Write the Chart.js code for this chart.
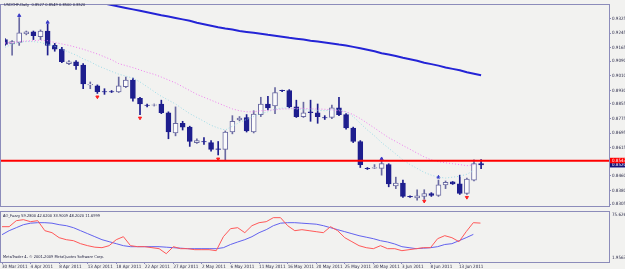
<!DOCTYPE html>
<html>
<head>
<meta charset="utf-8">
<script src="https://cdn.jsdelivr.net/npm/chart.js@4.4.0/dist/chart.umd.min.js"></script>
<style>
  html, body { margin: 0; padding: 0; background: #f2f2f0; }
  #wrap { position: relative; width: 625px; height: 269px; overflow: hidden; background: #f2f2f0; }
  #main { position: absolute; left: 0; top: 0; }
  #sub { position: absolute; left: 0; top: 205px; }
  .lbl { position: absolute; font-family: 'Liberation Sans Narrow', 'DejaVu Sans Condensed', sans-serif;
         font-size: 8px; line-height: 1; color: #202040; white-space: nowrap;
         transform: scale(0.5); transform-origin: 0 0; }
</style>
</head>
<body>
<div id="wrap">
  <canvas id="main" width="625" height="211"></canvas>
  <canvas id="sub" width="625" height="64"></canvas>
  <div class="lbl" style="left:4px;top:3px">USDCHF,Daily&nbsp; 0.8527 0.8549 0.8500 0.8520</div>
  <div class="lbl" style="left:3px;top:214px">AO_Fuzzy 59.2800 42.6200 33.9009 48.2020 11.6999</div>
  <div class="lbl" style="left:3px;top:255px">MetaTrader 4, © 2001-2009 MetaQuotes Software Corp.</div>
</div>
<script>
// daily bars (MT4 includes the short Sunday bars)
const dates = [
  '30 Mar 2011','31 Mar 2011','1 Apr 2011','3 Apr 2011','4 Apr 2011','5 Apr 2011','6 Apr 2011','7 Apr 2011',
  '8 Apr 2011','10 Apr 2011','11 Apr 2011','12 Apr 2011','13 Apr 2011','14 Apr 2011','15 Apr 2011','17 Apr 2011',
  '18 Apr 2011','19 Apr 2011','20 Apr 2011','21 Apr 2011','22 Apr 2011','24 Apr 2011','25 Apr 2011','26 Apr 2011',
  '27 Apr 2011','28 Apr 2011','29 Apr 2011','1 May 2011','2 May 2011','3 May 2011','4 May 2011','5 May 2011',
  '6 May 2011','8 May 2011','9 May 2011','10 May 2011','11 May 2011','12 May 2011','13 May 2011','15 May 2011',
  '16 May 2011','17 May 2011','18 May 2011','19 May 2011','20 May 2011','22 May 2011','23 May 2011','24 May 2011',
  '25 May 2011','26 May 2011','27 May 2011','29 May 2011','30 May 2011','31 May 2011','1 Jun 2011','2 Jun 2011',
  '3 Jun 2011','5 Jun 2011','6 Jun 2011','7 Jun 2011','8 Jun 2011','9 Jun 2011','10 Jun 2011','12 Jun 2011',
  '13 Jun 2011','14 Jun 2011','15 Jun 2011','16 Jun 2011'
];
const emptyBars = 18; // free space right of the last bar

const opens = [
  0.9209,0.9185,0.9193,0.9241,0.9251,0.9225,0.9256,0.9177,0.9156,0.9077,0.9087,0.9069,0.8960,0.8955,0.8923,0.8923,
  0.8921,0.8950,0.8987,0.8886,0.8849,0.8849,0.8855,0.8807,0.8696,0.8749,0.8728,0.8643,0.8649,0.8643,0.8609,0.8606,
  0.8701,0.8767,0.8781,0.8701,0.8797,0.8855,0.8844,0.8930,0.8929,0.8839,0.8786,0.8812,0.8807,0.8781,0.8781,0.8834,
  0.8797,0.8723,0.8649,0.8501,0.8503,0.8501,0.8522,0.8405,0.8421,0.8347,0.8339,0.8347,0.8363,0.8353,0.8411,0.8427,
  0.8416,0.8363,0.8437,0.8527
];
const highs = [
  0.9214,0.9204,0.9330,0.9256,0.9256,0.9262,0.9293,0.9188,0.9167,0.9093,0.9093,0.9077,0.8976,0.8960,0.8939,0.8929,
  0.9003,0.9003,0.8997,0.8892,0.8855,0.8855,0.8876,0.8812,0.8839,0.8760,0.8733,0.8664,0.8670,0.8654,0.8649,0.8707,
  0.8791,0.8786,0.8797,0.8818,0.8892,0.8897,0.8945,0.8931,0.8934,0.8876,0.8865,0.8876,0.8855,0.8791,0.8849,0.8892,
  0.8802,0.8728,0.8654,0.8506,0.8522,0.8543,0.8527,0.8453,0.8437,0.8350,0.8384,0.8384,0.8368,0.8437,0.8432,0.8429,
  0.8464,0.8448,0.8548,0.8549
];
const lows = [
  0.9177,0.9124,0.9177,0.9235,0.9209,0.9209,0.9124,0.9145,0.9082,0.9071,0.9045,0.8939,0.8939,0.8913,0.8908,0.8918,
  0.8918,0.8945,0.8871,0.8797,0.8839,0.8844,0.8802,0.8664,0.8680,0.8712,0.8622,0.8638,0.8633,0.8596,0.8575,0.8548,
  0.8691,0.8762,0.8701,0.8696,0.8786,0.8823,0.8802,0.8923,0.8834,0.8781,0.8781,0.8760,0.8749,0.8770,0.8775,0.8791,
  0.8717,0.8643,0.8506,0.8495,0.8501,0.8464,0.8400,0.8390,0.8342,0.8342,0.8326,0.8331,0.8347,0.8347,0.8390,0.8413,
  0.8358,0.8358,0.8432,0.8500
];
const closes = [
  0.9182,0.9198,0.9246,0.9251,0.9230,0.9256,0.9177,0.9156,0.9087,0.9087,0.9066,0.8966,0.8963,0.8923,0.8921,0.8921,
  0.8955,0.8987,0.8886,0.8855,0.8847,0.8851,0.8807,0.8701,0.8749,0.8728,0.8649,0.8654,0.8647,0.8606,0.8606,0.8701,
  0.8760,0.8778,0.8707,0.8799,0.8855,0.8834,0.8918,0.8928,0.8839,0.8786,0.8807,0.8807,0.8786,0.8778,0.8834,0.8797,
  0.8723,0.8649,0.8522,0.8499,0.8506,0.8527,0.8416,0.8421,0.8347,0.8345,0.8350,0.8363,0.8353,0.8411,0.8424,0.8416,
  0.8363,0.8442,0.8527,0.8520
];

// moving averages on the price window
const maSlow = [
  0.9521,0.9513,0.9505,0.9497,0.9489,0.9481,0.9473,0.9465,0.9457,0.9449,0.9441,0.9433,0.9425,0.9418,0.9407,0.9399,
  0.9391,0.9383,0.9375,0.9367,0.9359,0.9351,0.9343,0.9336,0.9328,0.9320,0.9312,0.9301,0.9293,0.9285,0.9277,0.9270,
  0.9264,0.9256,0.9251,0.9246,0.9241,0.9235,0.9230,0.9225,0.9219,0.9214,0.9209,0.9203,0.9198,0.9193,0.9188,0.9182,
  0.9177,0.9169,0.9161,0.9153,0.9145,0.9134,0.9127,0.9119,0.9109,0.9101,0.9093,0.9082,0.9074,0.9066,0.9056,0.9048,
  0.9040,0.9029,0.9021,0.9013
];
const maMid = [
  0.9190,0.9193,0.9198,0.9201,0.9203,0.9206,0.9203,0.9193,0.9185,0.9177,0.9167,0.9156,0.9143,0.9130,0.9114,0.9098,
  0.9077,0.9066,0.9055,0.9042,0.9029,0.9018,0.9003,0.8987,0.8971,0.8950,0.8929,0.8908,0.8892,0.8876,0.8860,0.8844,
  0.8828,0.8818,0.8812,0.8812,0.8818,0.8820,0.8823,0.8828,0.8828,0.8831,0.8831,0.8828,0.8828,0.8826,0.8823,0.8818,
  0.8812,0.8797,0.8775,0.8749,0.8723,0.8696,0.8670,0.8649,0.8627,0.8606,0.8585,0.8564,0.8548,0.8538,0.8532,0.8527,
  0.8522,0.8516,0.8522,null
];
const maFast = [
  0.9167,0.9182,0.9193,0.9198,0.9198,0.9193,0.9182,0.9172,0.9156,0.9140,0.9124,0.9103,0.9087,0.9066,0.9050,0.9034,
  0.9019,0.9008,0.8997,0.8976,0.8950,0.8923,0.8897,0.8876,0.8855,0.8828,0.8802,0.8781,0.8760,0.8738,0.8723,0.8712,
  0.8733,0.8754,0.8770,0.8786,0.8802,0.8812,0.8828,0.8833,0.8833,0.8828,0.8823,0.8823,0.8820,0.8818,0.8823,0.8823,
  0.8812,0.8786,0.8749,0.8712,0.8680,0.8643,0.8612,0.8580,0.8548,0.8522,0.8501,0.8479,0.8464,0.8453,0.8448,0.8453,
  0.8458,0.8469,0.8490,null
];

// fractal arrows
const fractalUpIdx = [2, 6, 53, 61];
const fractalUpVal = [0.9341, 0.9304, 0.8554, 0.8453];
const fractalDownIdx = [13, 19, 30, 59, 65];
const fractalDownVal = [0.8894, 0.8778, 0.8553, 0.8321, 0.8342];

const levelLine = 0.8543;
const bidPrice = 0.8520;
const priceTicks = [0.8305,0.8380,0.8460,0.8535,0.8615,0.8695,0.8775,0.8855,0.8930,0.9010,0.9090,0.9165,0.9245,0.9325];

// AO_Fuzzy sub window
const aoMain = [
  54.00,54.00,62.84,64.32,61.37,62.84,48.11,45.16,37.79,34.85,33.37,28.95,26.00,23.79,23.06,26.00,
  34.85,39.27,26.00,24.53,24.53,23.06,21.59,14.22,24.53,21.59,21.59,20.11,20.11,20.11,18.64,39.27,
  51.06,52.53,45.16,55.48,59.90,61.37,67.27,67.27,55.48,48.11,49.58,48.11,46.64,45.16,54.00,48.11,
  37.79,31.90,26.00,23.06,21.59,26.00,21.59,21.59,18.64,20.11,21.59,23.06,23.06,36.32,40.74,37.79,
  31.90,46.64,59.90,59.28
];
const aoSignal = [
  42.21,48.11,52.53,56.95,59.16,59.90,59.90,59.16,56.95,55.48,52.53,48.11,43.69,39.27,34.85,31.90,
  28.95,26.00,24.53,24.53,24.53,24.53,24.53,23.79,23.06,22.32,21.59,21.59,21.59,21.59,21.59,23.06,
  27.74,31.42,34.85,39.27,45.16,49.58,55.48,59.16,59.90,59.90,59.16,58.42,57.69,55.48,52.53,49.58,
  46.64,43.69,40.74,38.53,36.32,33.37,31.42,28.48,24.53,23.06,21.59,22.32,23.06,24.53,27.74,28.95,
  33.37,37.79,42.62
];
const aoMax = 75.6265;
const aoMin = 1.9563;

const FRAME = '#8c8cba';
const TEXT = '#2a2a48';
const FONT = "'Liberation Sans Narrow', 'DejaVu Sans Condensed', sans-serif";
const BEAR = '#1e1e8e';
const BULL_EDGE = '#6a6aa2';

const labels = dates.concat(new Array(emptyBars).fill(''));

function pad(arr) {
  return arr.concat(new Array(labels.length - arr.length).fill(null));
}

function pointsAt(idx, vals) {
  const out = new Array(labels.length).fill(null);
  idx.forEach((i, k) => { out[i] = vals[k]; });
  return out;
}

const isBull = opens.map((o, i) => closes[i] >= o);

// MT4 style frame round the plot area
const framePlugin = {
  id: 'frame',
  afterDraw(chart) {
    const {ctx, chartArea: a} = chart;
    ctx.save();
    ctx.strokeStyle = FRAME;
    ctx.lineWidth = 1;
    ctx.strokeRect(0.5, a.top - 0.5, a.right, a.bottom - a.top + 1);
    ctx.restore();
  }
};

const priceMarks = {
  id: 'priceMarks',
  afterDatasetsDraw(chart) {
    const {ctx, chartArea: a} = chart;
    const y = chart.scales.y.getPixelForValue(levelLine);
    ctx.save();
    ctx.strokeStyle = '#ff0000';
    ctx.lineWidth = 2;
    ctx.beginPath();
    ctx.moveTo(0, y);
    ctx.lineTo(a.right, y);
    ctx.stroke();
    ctx.restore();
  },
  afterDraw(chart) {
    const {ctx, chartArea: a} = chart;
    const yBid = chart.scales.y.getPixelForValue(bidPrice);
    const yLvl = chart.scales.y.getPixelForValue(levelLine);
    ctx.save();
    ctx.font = '4.5px ' + FONT;
    ctx.textBaseline = 'middle';
    ctx.fillStyle = '#12127a';
    ctx.fillRect(a.right, yBid - 2.5, 625 - a.right, 5);
    ctx.fillStyle = '#ffffff';
    ctx.fillText(bidPrice.toFixed(4), a.right + 3, yBid);
    ctx.fillStyle = '#ff0000';
    ctx.fillRect(a.right, yLvl - 3, 625 - a.right, 5.5);
    ctx.fillStyle = '#ffffff';
    ctx.fillText(levelLine.toFixed(4), a.right + 3, yLvl);
    ctx.restore();
  }
};

const subLabels = {
  id: 'subLabels',
  afterDraw(chart) {
    const {ctx, chartArea: a} = chart;
    const s = chart.scales.y;
    ctx.save();
    ctx.font = '4.5px ' + FONT;
    ctx.fillStyle = TEXT;
    ctx.textBaseline = 'middle';
    ctx.fillText(aoMax.toFixed(4), a.right + 3, s.getPixelForValue(aoMax) + 3);
    ctx.fillText(aoMin.toFixed(4), a.right + 3, s.getPixelForValue(aoMin) - 4);
    ctx.restore();
  }
};

function noPad(s) {
  s.paddingTop = 0;
  s.paddingBottom = 0;
  s.paddingLeft = 0;
  s.paddingRight = 0;
}

function xScale(show) {
  return {
    type: 'category',
    offset: false,
    display: show,
    afterFit: s => { s.height = show ? 7 : 0; noPad(s); },
    border: { display: false },
    grid: {
      drawOnChartArea: false,
      tickLength: 2,
      color: c => (c.index % 4 === 0 && c.index < dates.length) ? FRAME : 'rgba(0,0,0,0)'
    },
    ticks: {
      autoSkip: false,
      maxRotation: 0,
      align: 'start',
      padding: 0,
      color: TEXT,
      font: { family: FONT, size: 4.5 },
      callback: (v, i) => (i % 4 === 0 && i < dates.length) ? labels[i] : ''
    }
  };
}

const mainChart = new Chart(document.getElementById('main'), {
  type: 'bar',
  data: {
    labels: labels,
    datasets: [
      {
        type: 'line', data: pad(maSlow), borderColor: '#2424d6', borderWidth: 2,
        pointRadius: 0, order: 0
      },
      {
        type: 'line', data: pad(maMid), borderColor: '#ee7fee', borderWidth: 1, borderDash: [1, 2],
        pointRadius: 0, order: 0
      },
      {
        type: 'line', data: pad(maFast), borderColor: '#9edbe6', borderWidth: 1, borderDash: [1, 2],
        pointRadius: 0, order: 0
      },
      {
        type: 'line', data: pointsAt(fractalUpIdx, fractalUpVal), showLine: false,
        pointStyle: 'triangle', pointRadius: 1.8, backgroundColor: '#3a3ac8', borderColor: '#3a3ac8',
        borderWidth: 1, order: 0
      },
      {
        type: 'line', data: pointsAt(fractalDownIdx, fractalDownVal), showLine: false,
        pointStyle: 'triangle', rotation: 180, pointRadius: 1.8, backgroundColor: '#ff2020', borderColor: '#ff2020',
        borderWidth: 1, order: 0
      },
      {
        // candle bodies
        data: pad(opens.map((o, i) => [o, closes[i]])),
        backgroundColor: isBull.map(b => b ? '#fbfbfb' : BEAR),
        borderColor: isBull.map(b => b ? BULL_EDGE : BEAR),
        borderWidth: 1, borderSkipped: false, barThickness: 5, grouped: false, order: 1
      },
      {
        // wicks
        data: pad(lows.map((l, i) => [l, highs[i]])),
        backgroundColor: isBull.map(b => b ? BULL_EDGE : BEAR),
        borderWidth: 0, barThickness: 1, grouped: false, order: 2
      }
    ]
  },
  options: {
    responsive: false,
    animation: false,
    devicePixelRatio: 1,
    layout: { padding: { left: 2, top: 1, right: 0, bottom: 1 } },
    plugins: { legend: { display: false }, tooltip: { enabled: false } },
    scales: {
      x: xScale(false),
      y: {
        position: 'right',
        min: 0.82945,
        max: 0.93990,
        afterFit: s => { s.width = 16; noPad(s); },
        afterBuildTicks: s => { s.ticks = priceTicks.map(v => ({ value: v })); },
        border: { display: false },
        grid: { drawOnChartArea: false, tickLength: 2, color: FRAME },
        ticks: {
          padding: 1,
          color: TEXT,
          font: { family: FONT, size: 4.5 },
          callback: v => Number(v).toFixed(4)
        }
      }
    }
  },
  plugins: [priceMarks, framePlugin]
});

const subChart = new Chart(document.getElementById('sub'), {
  type: 'line',
  data: {
    labels: labels,
    datasets: [
      { data: pad(aoMain), borderColor: '#ff5858', borderWidth: 1, pointRadius: 0 },
      { data: pad(aoSignal), borderColor: '#6262ee', borderWidth: 1, pointRadius: 0 }
    ]
  },
  options: {
    responsive: false,
    animation: false,
    devicePixelRatio: 1,
    layout: { padding: { left: 2, top: 7, right: 0, bottom: 0 } },
    plugins: { legend: { display: false }, tooltip: { enabled: false } },
    scales: {
      x: xScale(true),
      y: {
        position: 'right',
        min: aoMin,
        max: aoMax,
        afterFit: s => { s.width = 16; noPad(s); },
        border: { display: false },
        grid: { display: false },
        ticks: { display: false }
      }
    }
  },
  plugins: [framePlugin, subLabels]
});
</script>
</body>
</html>
